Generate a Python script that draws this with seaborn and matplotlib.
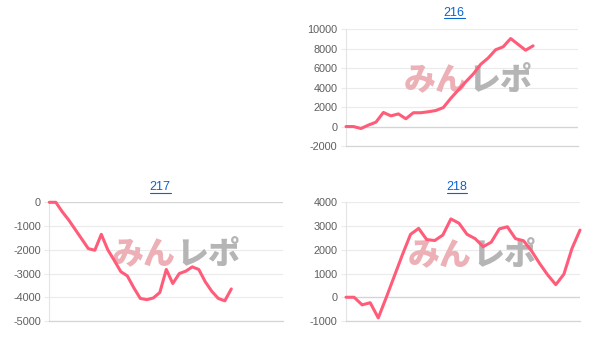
import matplotlib
matplotlib.use("Agg")
import matplotlib.pyplot as plt
import seaborn as sns
import pandas as pd
from matplotlib.lines import Line2D

# ---------------- data ----------------
titles = ["216", "217", "218"]

values_216 = [0, 0, -200, 150, 450, 1450, 1100, 1300, 800, 1420, 1420, 1520, 1650,
              1950, 2900, 3750, 4600, 5400, 6400, 7050, 7900, 8200, 9050, 8450, 7850, 8300]
values_217 = [0, 0, -400, -750, -1150, -1550, -1950, -2020, -1350, -2000, -2450, -2920,
              -3100, -3600, -4050, -4100, -4030, -3800, -2830, -3420, -3000, -2900, -2720,
              -2830, -3350, -3750, -4050, -4150, -3650]
values_218 = [0, 0, -320, -230, -870, 0, 900, 1800, 2650, 2900, 2430, 2390, 2620, 3300,
              3120, 2650, 2470, 2130, 2320, 2880, 2970, 2470, 2380, 1950, 1420, 940, 530,
              970, 2050, 2830]

slots_216 = 32   # number of x categories on the axis
slots_217 = 37
slots_218 = 30

yticks_216 = [-2000, 0, 2000, 4000, 6000, 8000, 10000]
yticks_217 = [-5000, -4000, -3000, -2000, -1000, 0]
yticks_218 = [-1000, 0, 1000, 2000, 3000, 4000]

wm_left = "みん"
wm_right = "レポ"

# ---------------- style ----------------
W, H = 607, 347
LINE = "#ff5c7a"
GRID = "#ebebeb"
AXIS = "#d4d4d4"
TICKC = "#5e5e5e"
TITLEC = "#0b63ce"

sns.set_theme(style="white")
plt.rcParams["font.family"] = ["Liberation Sans", "Noto Sans CJK JP", "DejaVu Sans"]
plt.rcParams["axes.unicode_minus"] = False

fig = plt.figure(figsize=(W / 100, H / 100), dpi=100)
fig.patch.set_facecolor("white")


def px_axes(l, r, t, b):
    return fig.add_axes([l / W, 1 - b / H, (r - l) / W, (b - t) / H])


def draw(ax, values, nslots, ticks, wm_center):
    df = pd.DataFrame({"x": list(range(len(values))), "y": values})
    sns.lineplot(data=df, x="x", y="y", ax=ax, color=LINE, linewidth=2.2,
                 clip_on=False, zorder=5, solid_joinstyle="round",
                 solid_capstyle="round")
    ax.set_xlim(0, nslots - 1)
    ax.set_ylim(ticks[0], ticks[-1])
    ax.set_yticks(ticks)
    ax.set_yticklabels([str(t) for t in ticks])
    ax.set_xticks([])
    ax.set_xlabel("")
    ax.set_ylabel("")
    ax.set_facecolor("white")
    ax.set_axisbelow(True)
    ax.grid(axis="y", color=GRID, linewidth=0.8)
    ax.grid(axis="x", visible=False)
    ax.axhline(0, color=AXIS, linewidth=0.9, zorder=1)
    for s in ["top", "right"]:
        ax.spines[s].set_visible(False)
    ax.spines["left"].set_color("#e4e4e4")
    ax.spines["left"].set_linewidth(0.8)
    ax.spines["bottom"].set_color(AXIS)
    ax.spines["bottom"].set_linewidth(0.9)
    ax.tick_params(axis="y", length=3.6, width=0.8, color=GRID,
                   labelcolor=TICKC, labelsize=7.8, pad=2.5, left=True)
    # watermark
    cx, cy = wm_center
    ax.text(cx / W, 1 - cy / H, wm_left, transform=fig.transFigure, ha="right",
            va="center", fontsize=23, fontweight="black", color="#ecb0b6",
            family=["Noto Sans CJK JP", "DejaVu Sans"], zorder=2)
    ax.text(cx / W, 1 - cy / H, wm_right, transform=fig.transFigure, ha="left",
            va="center", fontsize=23, fontweight="black", color="#b5b5b5",
            family=["Noto Sans CJK JP", "DejaVu Sans"], zorder=2)


ax216 = px_axes(346, 578, 29.3, 146)
ax217 = px_axes(49.3, 283.3, 202.3, 321)
ax218 = px_axes(346, 580, 202.3, 321)

draw(ax216, values_216, slots_216, yticks_216, (468, 80))
draw(ax217, values_217, slots_217, yticks_217, (176, 254))
draw(ax218, values_218, slots_218, yticks_218, (472, 255))

title_pos = [(454, 12.5), (160, 187), (457, 187)]
title_texts = []
for t, (x, y) in zip(titles, title_pos):
    title_texts.append(fig.text(x / W, 1 - y / H, t, ha="center", va="center",
                                fontsize=9, color=TITLEC))

fig.canvas.draw()
renderer = fig.canvas.get_renderer()
for tt in title_texts:
    bb = tt.get_window_extent(renderer)
    yline = bb.y0 + 0.5
    fig.add_artist(Line2D([bb.x0 / W, bb.x1 / W], [yline / H, yline / H],
                          transform=fig.transFigure, color=TITLEC, linewidth=0.8))

fig.savefig("out.png", dpi=100, facecolor="white")
